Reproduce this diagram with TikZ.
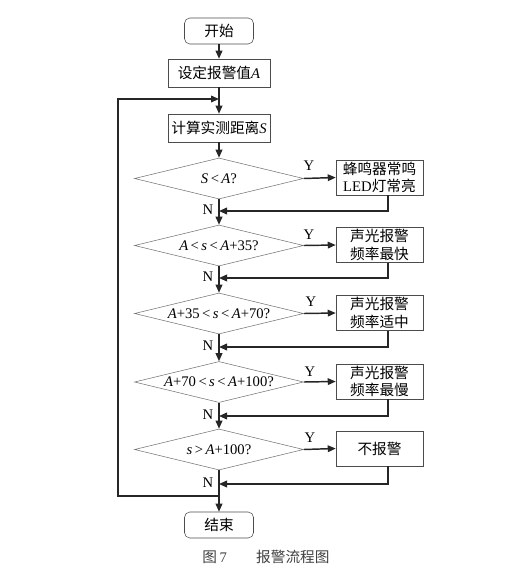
\documentclass[tikz,border=0pt]{standalone}
\usepackage{fontspec}
\setmainfont{Liberation Serif}
\newfontfamily\cjk{Noto Sans CJK SC}
\usetikzlibrary{shapes.geometric,arrows.meta}

\tikzset{
  txt/.style={font=\fontsize{11}{13}\selectfont, text=black},
  terminal/.style={txt, draw=black!70, rounded corners=4pt, minimum width=51.75pt, minimum height=19.5pt, inner sep=0pt},
  process/.style={txt, draw=black!70, minimum width=76.5pt, minimum height=21pt, inner sep=0pt},
  alarm/.style={txt, draw=black!70, minimum width=65.25pt, minimum height=26.25pt, inner sep=0pt, align=center},
  decision/.style={diamond, draw=black!55, minimum width=126.75pt, minimum height=30.75pt, inner sep=0pt},
  flow/.style={draw=black!85, line width=1.1pt},
  arr/.style={flow, -{Triangle[length=6pt,width=5pt]}}
}

\begin{document}
\begin{tikzpicture}[x=0.75pt, y=-0.75pt]
  \useasboundingbox (0, 0) rectangle (527, 586);

  % main column
  \node [terminal] (start) at (219, 31) {\cjk 开始};
  \node [process] (setA) at (219, 73) {{\cjk 设定报警值}\textit{A}};
  \node [process] (calc) at (219, 128) {{\cjk 计算实测距离}\textit{S}};
  \node [decision, label={[txt]center:\textit{S}\,<\,\textit{A}?}] (d1) at (219, 178.5) {};
  \node [decision, label={[txt]center:\textit{A}\,<\,\textit{s}\,<\,\textit{A}+35?}] (d2) at (219, 245.5) {};
  \node [decision, label={[txt]center:\textit{A}+35\,<\,\textit{s}\,<\,\textit{A}+70?}] (d3) at (219, 313.5) {};
  \node [decision, label={[txt]center:\textit{A}+70\,<\,\textit{s}\,<\,\textit{A}+100?}] (d4) at (219, 382) {};
  \node [decision, label={[txt]center:\textit{s}\,>\,\textit{A}+100?}] (d5) at (219, 449.5) {};
  \node [terminal] (stop) at (219, 525) {\cjk 结束};

  % alarm boxes
  \node [alarm] (b1) at (379.5, 177.5) {\cjk 蜂鸣器常鸣\\LED{\cjk 灯常亮}};
  \node [alarm] (b2) at (379.5, 245) {\cjk 声光报警\\\cjk 频率最快};
  \node [alarm] (b3) at (379.5, 313) {\cjk 声光报警\\\cjk 频率适中};
  \node [alarm] (b4) at (379.5, 381.5) {\cjk 声光报警\\\cjk 频率最慢};
  \node [alarm] (b5) at (379.5, 448.5) {\cjk 不报警};

  % joins on the main column
  \coordinate (loopin) at (219, 99);
  \coordinate (j1) at (219, 211);
  \coordinate (j2) at (219, 278);
  \coordinate (j3) at (219, 347);
  \coordinate (j4) at (219, 416);
  \coordinate (j5) at (219, 484);
  \coordinate (loopout) at (219, 496);

  \draw [arr] (start) -- (setA);
  \draw [arr] (setA) -- (calc);
  \draw [arr] (calc) -- (d1);
  \draw [arr] (d1) -- (d2);
  \draw [arr] (d2) -- (d3);
  \draw [arr] (d3) -- (d4);
  \draw [arr] (d4) -- (d5);
  \draw [arr] (d5) -- (stop);

  \draw [arr] (d1.east) -- (b1.west);
  \draw [arr] (d2.east) -- (b2.west);
  \draw [arr] (d3.east) -- (b3.west);
  \draw [arr] (d4.east) -- (b4.west);
  \draw [arr] (d5.east) -- (b5.west);

  \draw [arr] ([xshift=6.5pt]b1.south) |- (j1);
  \draw [arr] ([xshift=6.5pt]b2.south) |- (j2);
  \draw [arr] ([xshift=6.5pt]b3.south) |- (j3);
  \draw [arr] ([xshift=6.5pt]b4.south) |- (j4);
  \draw [arr] ([xshift=6.5pt]b5.south) |- (j5);

  % back loop
  \draw [arr] (loopout) -- ++(-101, 0) |- (loopin);

  % Y / N marks
  \node [txt] (y1) at (309, 166) {Y};
  \node [txt] (y2) at (309, 235) {Y};
  \node [txt] (y3) at (311, 302) {Y};
  \node [txt] (y4) at (310, 372) {Y};
  \node [txt] (y5) at (310, 438) {Y};
  \node [txt] (n1) at (208, 210) {N};
  \node [txt] (n2) at (208, 277) {N};
  \node [txt] (n3) at (208, 346) {N};
  \node [txt] (n4) at (208, 415) {N};
  \node [txt] (n5) at (208, 483) {N};

  \node [txt, text=black!75] (caption) at (266, 557) {{\cjk 图}\,7\qquad{\cjk 报警流程图}};
\end{tikzpicture}
\end{document}
